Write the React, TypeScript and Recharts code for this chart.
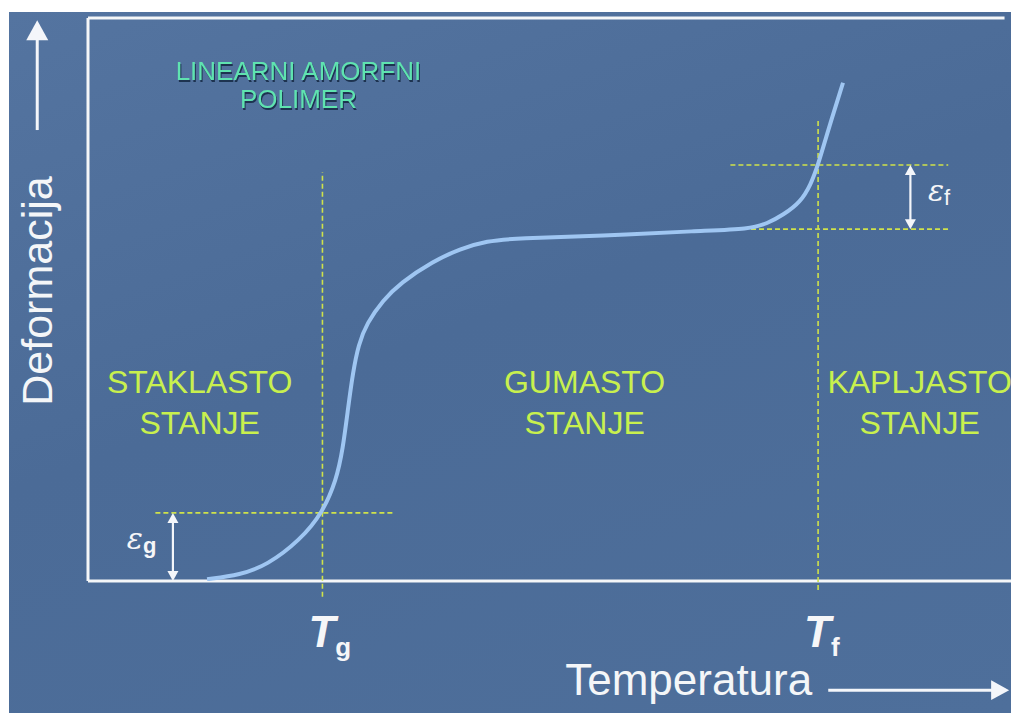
import React from 'react';
import { ComposedChart, Line, XAxis, YAxis, ReferenceLine, ReferenceDot } from 'recharts';

// curve: temperature vs deformation (schematic units 0..100)
const temperatura = [12.9, 16.5, 19.4, 23.0, 25.4, 26.9, 27.6, 28.2, 28.7, 29.3, 30.2, 32.0, 33.8, 37.4, 40.3, 43.2, 46.5, 55.5, 66.3, 71.7, 73.6, 75.3, 77.2, 78.3, 79.1, 80.1, 81.8];
const deformacija = [0.3, 1.1, 2.8, 7.3, 12.1, 17.9, 23.3, 31.0, 37.0, 42.0, 45.8, 49.9, 52.9, 56.8, 59.0, 60.4, 60.9, 61.3, 62.2, 62.5, 63.5, 65.0, 67.3, 70.4, 73.9, 79.6, 88.5];

const Tg = 25.4;
const Tf = 79.1;
const epsG = 12.1;
const epsFLow = 62.5;
const epsFHigh = 73.9;

const regionNames = ['STAKLASTO', 'GUMASTO', 'KAPLJASTO'];
const regionSub = ['STANJE', 'STANJE', 'STANJE'];
const regionCenters = [12.1, 53.8, 90.1];

const data = temperatura.map((t, i) => ({ T: t, D: deformacija[i] }));

const FONT = '"Liberation Sans", Arial, sans-serif';
const DASH = '#cfe24a';
const LIME = '#c8f04e';

const arrow = (both: boolean, head = 10, color = '#f4f6fa', sw = 2.2) => (p: any) => {
  const { x1, y1, x2, y2 } = p;
  const a = Math.atan2(y2 - y1, x2 - x1);
  const tri = (x: number, y: number, ang: number) => {
    const bx = x - head * Math.cos(ang);
    const by = y - head * Math.sin(ang);
    const w = head * 0.55;
    return `${x},${y} ${bx + w * Math.sin(ang)},${by - w * Math.cos(ang)} ${bx - w * Math.sin(ang)},${by + w * Math.cos(ang)}`;
  };
  const sx = both ? x1 + (head - 2) * Math.cos(a) : x1;
  const sy = both ? y1 + (head - 2) * Math.sin(a) : y1;
  const ex = x2 - (head - 2) * Math.cos(a);
  const ey = y2 - (head - 2) * Math.sin(a);
  return (
    <g>
      <line x1={sx} y1={sy} x2={ex} y2={ey} stroke={color} strokeWidth={sw} />
      <polygon points={tri(x2, y2, a)} fill={color} />
      {both && <polygon points={tri(x1, y1, a + Math.PI)} fill={color} />}
    </g>
  );
};

const regionLabel = (i: number) => (p: any) => (
  <text x={p.cx} y={p.cy} textAnchor="middle" fill={LIME} fontFamily={FONT} fontSize={32}>
    <tspan x={p.cx}>{regionNames[i]}</tspan>
    <tspan x={p.cx} dy={41}>{regionSub[i]}</tspan>
  </text>
);

const tempLabel = (sub: string) => (p: any) => (
  <text x={p.cx - 14} y={p.cy} fill="#f6f6f8" fontFamily={FONT} fontWeight="bold">
    <tspan fontSize={44} fontStyle="italic">T</tspan>
    <tspan fontSize={26} dy={9}>{sub}</tspan>
  </text>
);

const epsLabel = (sub: string) => (p: any) => (
  <text x={p.cx} y={p.cy} fill="#f6f6f8">
    <tspan fontSize={30} fontStyle="italic" fontFamily='"DejaVu Serif", serif'>ε</tspan>
    <tspan fontSize={22} dy={4} fontFamily={FONT} fontWeight={sub === 'g' ? 'bold' : 'normal'}>{sub}</tspan>
  </text>
);

const App = () => {
  return (
    <div style={{ position: 'fixed', left: 0, top: 0, width: 1011, height: 713, background: '#fff' }}>
      <div
        style={{
          position: 'absolute', left: 9, top: 12, right: 0, bottom: 0,
          background: 'linear-gradient(160deg, #5474a0 0%, #4b6b97 45%, #4e6f9b 100%)',
        }}
      />
      <div style={{ position: 'absolute', left: 0, top: 0 }}>
        <ComposedChart width={1011} height={713} data={data} margin={{ top: 18, left: 88, right: 0, bottom: 132 }}>
          <XAxis dataKey="T" type="number" domain={[0, 100]} hide allowDataOverflow />
          <YAxis type="number" domain={[0, 100]} hide allowDataOverflow />

          {/* frame */}
          <ReferenceLine ifOverflow="visible" segment={[{ x: 0, y: 0 }, { x: 0, y: 100 }]} stroke="#f4f6f8" strokeWidth={3} />
          <ReferenceLine ifOverflow="visible" segment={[{ x: 0, y: 100 }, { x: 99.3, y: 100 }]} stroke="#f4f6f8" strokeWidth={3} />
          <ReferenceLine ifOverflow="visible" segment={[{ x: 0, y: 0 }, { x: 101, y: 0 }]} stroke="#f4f6f8" strokeWidth={3} />

          {/* dashed guides */}
          <ReferenceLine ifOverflow="visible" segment={[{ x: Tg, y: -2.8 }, { x: Tg, y: 72.6 }]} stroke={DASH} strokeWidth={1.6} strokeDasharray="5 3" />
          <ReferenceLine ifOverflow="visible" segment={[{ x: Tf, y: -1.6 }, { x: Tf, y: 82.2 }]} stroke={DASH} strokeWidth={1.6} strokeDasharray="5 3" />
          <ReferenceLine ifOverflow="visible" segment={[{ x: 7.3, y: epsG }, { x: 33.0, y: epsG }]} stroke={DASH} strokeWidth={1.6} strokeDasharray="5 3" />
          <ReferenceLine ifOverflow="visible" segment={[{ x: 69.6, y: epsFHigh }, { x: 93.2, y: epsFHigh }]} stroke={DASH} strokeWidth={1.6} strokeDasharray="5 3" />
          <ReferenceLine ifOverflow="visible" segment={[{ x: 70.1, y: epsFLow }, { x: 93.4, y: epsFLow }]} stroke={DASH} strokeWidth={1.6} strokeDasharray="5 3" />

          {/* epsilon arrows */}
          <ReferenceLine ifOverflow="visible" segment={[{ x: 9.2, y: 0 }, { x: 9.2, y: epsG }]} shape={arrow(true, 10)} />
          <ReferenceLine ifOverflow="visible" segment={[{ x: 89.1, y: epsFLow }, { x: 89.1, y: epsFHigh }]} shape={arrow(true, 10)} />

          {/* axis arrows */}
          <ReferenceLine ifOverflow="visible" segment={[{ x: -5.5, y: 80.1 }, { x: -5.5, y: 99.6 }]} shape={arrow(false, 20, '#f4f6fa', 3)} />
          <ReferenceLine ifOverflow="visible" segment={[{ x: 80.2, y: -19.4 }, { x: 99.8, y: -19.4 }]} shape={arrow(false, 18, '#f4f6fa', 3)} />

          <Line dataKey="D" type="basis" stroke="#9fc6f2" strokeWidth={4} dot={false} isAnimationActive={false} />

          {/* labels */}
          {regionCenters.map((c, i) => (
            <ReferenceDot key={i} x={c} y={33.4} r={0} ifOverflow="visible" shape={regionLabel(i)} />
          ))}
          <ReferenceDot x={22.8} y={89} r={0} ifOverflow="visible" shape={(p: any) => (
            <text x={p.cx} y={p.cy} fill="#5fe3b0" fontFamily={FONT} fontSize={26} textAnchor="middle"
              style={{ filter: 'drop-shadow(1.5px 2px 0 #1d3350)' }}>
              <tspan x={p.cx}>LINEARNI AMORFNI</tspan>
              <tspan x={p.cx} dy={28}>POLIMER</tspan>
            </text>
          )} />
          <ReferenceDot x={Tg} y={-11.7} r={0} ifOverflow="visible" shape={tempLabel('g')} />
          <ReferenceDot x={Tf} y={-11.7} r={0} ifOverflow="visible" shape={tempLabel('f')} />
          <ReferenceDot x={4.2} y={5.7} r={0} ifOverflow="visible" shape={epsLabel('g')} />
          <ReferenceDot x={91.0} y={67.5} r={0} ifOverflow="visible" shape={epsLabel('f')} />
          <ReferenceDot x={51.7} y={-20.2} r={0} ifOverflow="visible" shape={(p: any) => (
            <text x={p.cx} y={p.cy} fill="#f4f6f8" fontFamily={FONT} fontSize={44}>Temperatura</text>
          )} />
          <ReferenceDot x={-3.9} y={51.5} r={0} ifOverflow="visible" shape={(p: any) => (
            <text x={p.cx} y={p.cy} fill="#f4f6f8" fontFamily={FONT} fontSize={43} textAnchor="middle" transform={`rotate(-90 ${p.cx} ${p.cy})`}>Deformacija</text>
          )} />
        </ComposedChart>
      </div>
    </div>
  );
};

export default App;
